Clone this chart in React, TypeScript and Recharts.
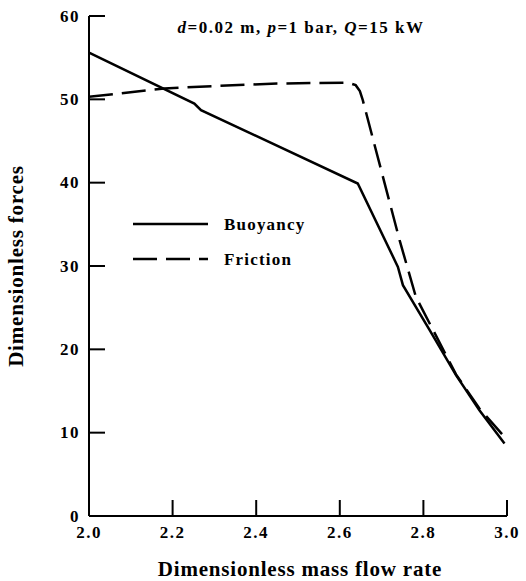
import React from "react";
import { LineChart, Line, XAxis, YAxis, Customized } from "recharts";

const xTicks = [2.0, 2.2, 2.4, 2.6, 2.8, 3.0];
const yTicks = [0, 10, 20, 30, 40, 50, 60];

const buoyancyX = [2.0, 2.252, 2.268, 2.643, 2.739, 2.751, 2.815, 2.878, 2.934, 2.994];
const buoyancyY = [55.6, 49.5, 48.7, 39.9, 29.9, 27.7, 22.3, 16.9, 12.7, 8.7];

const frictionX = [2.0, 2.18, 2.3, 2.45, 2.62, 2.638, 2.648, 2.655, 2.743, 2.782, 2.815, 2.878, 2.934, 2.994];
const frictionY = [50.3, 51.3, 51.6, 51.9, 52.0, 51.7, 51.0, 49.9, 33.1, 26.3, 23.1, 17.0, 12.9, 9.5];

const buoyancy = buoyancyX.map((x, i) => ({ x, y: buoyancyY[i] }));
const friction = frictionX.map((x, i) => ({ x, y: frictionY[i] }));

const FONT = "'Liberation Serif', 'Times New Roman', serif";
const DASH = "24 9";

const YTick = (props: any) => {
  const { x, y, payload } = props;
  return (
    <g>
      {payload.value !== 0 && (
        <line x1={x} y1={y} x2={x + 16} y2={y} stroke="#000" strokeWidth={2} />
      )}
      <text
        x={x - 9}
        y={y}
        textAnchor="end"
        dominantBaseline="central"
        fontFamily={FONT}
        fontWeight="bold"
        fontSize={17}
        letterSpacing={1.5}
        fill="#000"
      >
        {payload.value}
      </text>
    </g>
  );
};

const XTick = (props: any) => {
  const { x, y, payload } = props;
  return (
    <g>
      {payload.value !== 2 && (
        <line x1={x} y1={y} x2={x} y2={y - 16} stroke="#000" strokeWidth={2} />
      )}
      <text
        x={x}
        y={y + 16}
        textAnchor="middle"
        dominantBaseline="central"
        fontFamily={FONT}
        fontWeight="bold"
        fontSize={17}
        letterSpacing={1.5}
        fill="#000"
      >
        {Number(payload.value).toFixed(1)}
      </text>
    </g>
  );
};

const Extras = () => (
  <g fontFamily={FONT} fontWeight="bold" fill="#000">
    <text x={301} y={27} textAnchor="middle" dominantBaseline="central" fontSize={17} letterSpacing={1.5}>
      <tspan fontStyle="italic">d</tspan>
      <tspan>=0.02 m, </tspan>
      <tspan fontStyle="italic">p</tspan>
      <tspan>=1 bar, </tspan>
      <tspan fontStyle="italic">Q</tspan>
      <tspan>=15 kW</tspan>
    </text>
    <line x1={133} y1={224} x2={208} y2={224} stroke="#000" strokeWidth={2.5} />
    <text x={224} y={224} dominantBaseline="central" fontSize={17} letterSpacing={1.2}>
      Buoyancy
    </text>
    <line x1={133} y1={259} x2={208} y2={259} stroke="#000" strokeWidth={2.5} strokeDasharray={DASH} />
    <text x={224} y={259} dominantBaseline="central" fontSize={17} letterSpacing={1.2}>
      Friction
    </text>
    <text x={300} y={569} textAnchor="middle" dominantBaseline="central" fontSize={21} letterSpacing={0.8}>
      Dimensionless mass flow rate
    </text>
    <text
      x={16}
      y={266}
      textAnchor="middle"
      dominantBaseline="central"
      fontSize={21}
      letterSpacing={0.8}
      transform="rotate(-90 16 266)"
    >
      Dimensionless forces
    </text>
  </g>
);

export default function App() {
  return (
    <div style={{ position: "absolute", left: 0, top: 0, background: "#fff" }}>
      <LineChart width={526} height={581} margin={{ top: 16, right: 19, bottom: 0, left: 0 }}>
        <XAxis
          type="number"
          dataKey="x"
          domain={[2, 3]}
          ticks={xTicks}
          allowDataOverflow
          height={65}
          tickSize={0}
          tickMargin={0}
          tickLine={false}
          axisLine={{ stroke: "#000", strokeWidth: 2 }}
          tick={<XTick />}
        />
        <YAxis
          type="number"
          dataKey="y"
          domain={[0, 60]}
          ticks={yTicks}
          allowDataOverflow
          width={89}
          tickSize={0}
          tickMargin={0}
          tickLine={false}
          axisLine={{ stroke: "#000", strokeWidth: 2 }}
          tick={<YTick />}
        />
        <Line
          data={buoyancy}
          dataKey="y"
          type="linear"
          stroke="#000"
          strokeWidth={2.5}
          dot={false}
          isAnimationActive={false}
        />
        <Line
          data={friction}
          dataKey="y"
          type="linear"
          stroke="#000"
          strokeWidth={2.5}
          strokeDasharray={DASH}
          dot={false}
          isAnimationActive={false}
        />
        <Customized component={Extras} />
      </LineChart>
    </div>
  );
}
